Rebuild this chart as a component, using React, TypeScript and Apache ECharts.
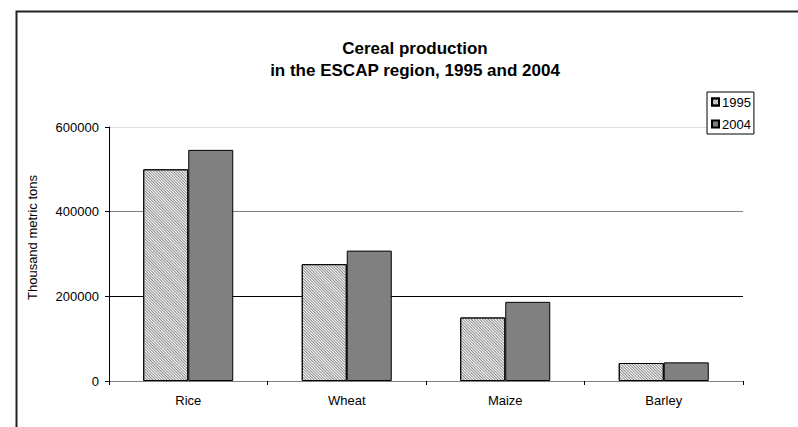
import React, { useEffect, useRef } from "react";
import * as echarts from "echarts";

const categories = ["Rice", "Wheat", "Maize", "Barley"];
const values1995 = [500000, 276000, 150000, 42500];
const values2004 = [546000, 308000, 187000, 44000];
const seriesNames = ["1995", "2004"];
const yTicks = { min: 0, max: 600000, interval: 200000 };
const titleLines = ["Cereal production", "in the ESCAP region, 1995 and 2004"];
const yAxisTitle = "Thousand metric tons";

export default function App() {
  const ref = useRef<HTMLDivElement>(null);
  useEffect(() => {
    if (!ref.current) return;
    const chart = echarts.init(ref.current, null, { renderer: "svg" });
    const font = "'Liberation Sans', Arial, sans-serif";
    chart.setOption({
      animation: false,
      backgroundColor: "#fff",
      textStyle: { fontFamily: font, color: "#000" },
      grid: { left: 109, right: 55, top: 127, bottom: 46, containLabel: false },
      graphic: [
        {
          type: "rect",
          shape: { x: 16.5, y: 11.5, width: 900, height: 600 },
          style: { fill: "none", stroke: "#222", lineWidth: 2 },
          silent: true,
          z: 100,
        },
        {
          type: "text",
          x: 415,
          y: 48,
          style: {
            text: titleLines[0],
            font: `bold 17px ${font}`,
            fill: "#000",
            textAlign: "center",
            textVerticalAlign: "middle",
          },
        },
        {
          type: "text",
          x: 415,
          y: 70,
          style: {
            text: titleLines[1],
            font: `bold 17px ${font}`,
            fill: "#000",
            textAlign: "center",
            textVerticalAlign: "middle",
          },
        },
        {
          type: "text",
          x: 32,
          y: 237.5,
          rotation: Math.PI / 2,
          style: {
            text: yAxisTitle,
            font: `13px ${font}`,
            fill: "#000",
            textAlign: "center",
            textVerticalAlign: "middle",
          },
        },
      ],
      legend: {
        orient: "vertical",
        left: 707,
        top: 92,
        padding: [3, 3, 3, 4],
        itemWidth: 7,
        itemHeight: 7,
        itemGap: 8,
        icon: "rect",
        borderColor: "#000",
        borderWidth: 1,
        borderRadius: 0,
        backgroundColor: "#fff",
        textStyle: { fontSize: 13, lineHeight: 14, fontFamily: font, color: "#000", padding: [0, 0, 0, -2] },
        data: seriesNames,
        z: 10,
      },
      xAxis: {
        type: "category",
        data: categories,
        boundaryGap: true,
        axisLine: { show: true, lineStyle: { color: "#808080", width: 1 } },
        axisTick: { show: true, length: 4, lineStyle: { color: "#000" } },
        axisLabel: { fontSize: 13, color: "#000", fontFamily: font, margin: 13 },
        z: 5,
      },
      yAxis: {
        type: "value",
        min: yTicks.min,
        max: yTicks.max,
        interval: yTicks.interval,
        axisLine: { show: true, lineStyle: { color: "#000", width: 1 } },
        axisTick: { show: true, length: 4, lineStyle: { color: "#000" } },
        axisLabel: {
          fontSize: 13,
          color: "#000",
          fontFamily: font,
          margin: 10,
          formatter: (v: number) => String(v),
        },
        splitLine: {
          show: true,
          lineStyle: { color: ["#808080", "#000", "#808080", "#dddddd"], width: 1 },
        },
      },
      series: [
        {
          name: seriesNames[0],
          type: "bar",
          data: values1995,
          barWidth: 45,
          barGap: "0%",
          itemStyle: {
            color: "#ffffff",
            borderColor: "#000",
            borderWidth: 1,
            decal: {
              symbol: "rect",
              symbolSize: 1,
              dashArrayX: [1, 0],
              dashArrayY: [1, 1],
              rotation: Math.PI / 4,
              color: "#8a8a8a",
            },
          },
        },
        {
          name: seriesNames[1],
          type: "bar",
          data: values2004,
          barWidth: 45,
          barGap: "0%",
          itemStyle: { color: "#808080", borderColor: "#000", borderWidth: 1 },
        },
      ],
    });
    return () => chart.dispose();
  }, []);
  return (
    <div
      ref={ref}
      style={{ position: "fixed", left: 0, top: 0, width: 798, height: 427 }}
    />
  );
}
